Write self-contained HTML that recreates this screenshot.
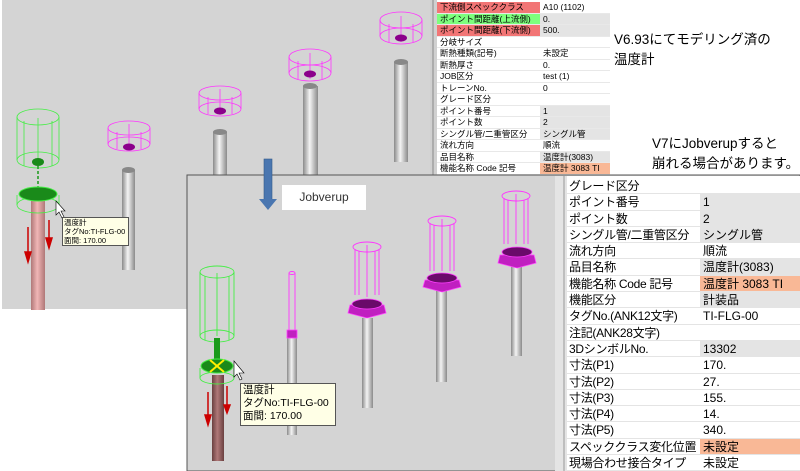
<!DOCTYPE html>
<html><head><meta charset="utf-8"><style>
body{margin:0;width:800px;height:471px;overflow:hidden;background:#fff;position:relative;font-family:"Liberation Sans","Noto Sans CJK JP",sans-serif}
.abs{position:absolute}
.t1{position:absolute;left:437px;top:2px;width:173px;font-size:8.5px}
.t1 .row{display:flex;height:11.5px;line-height:11px;border-bottom:0.5px solid #e8e8e8;box-sizing:border-box;white-space:nowrap;overflow:hidden}
.t1 .row div:first-child{width:103px;padding-left:3px;box-sizing:border-box;overflow:hidden}
.t1 .row div:last-child{flex:1;padding-left:3px;overflow:hidden}
.t2{position:absolute;left:567px;top:178px;width:233px;font-size:12px}
.t2 .row{display:flex;height:16.3px;line-height:16px;border-bottom:1px solid #e4e4e4;box-sizing:border-box;white-space:nowrap;overflow:hidden}
.t2 .row div:first-child{width:133px;padding-left:2px;box-sizing:border-box;overflow:hidden;letter-spacing:-0.3px}
.t2 .row div:last-child{flex:1;padding-left:3px;overflow:hidden}
.g{background:#e4e4e4}
.o{background:#f9b896}
.r{background:#f27575}
.gr{background:#7dff7d}
.tip{position:absolute;background:#ffffe6;border:1px solid #555;color:#000;white-space:nowrap;overflow:hidden}
</style></head><body>
<svg class="abs" style="left:0;top:0" width="800" height="471">
<defs>
<linearGradient id="pg" x1="0" x2="1"><stop offset="0" stop-color="#8a8a8a"/><stop offset=".45" stop-color="#f4f4f4"/><stop offset="1" stop-color="#8a8a8a"/></linearGradient>
<linearGradient id="pk" x1="0" x2="1"><stop offset="0" stop-color="#b07878"/><stop offset=".45" stop-color="#f0b6b6"/><stop offset="1" stop-color="#b07878"/></linearGradient>
<linearGradient id="pb" x1="0" x2="1"><stop offset="0" stop-color="#6a4040"/><stop offset=".45" stop-color="#b07878"/><stop offset="1" stop-color="#6a4040"/></linearGradient>
</defs>
<rect x="2" y="0" width="428" height="309" fill="#d4d4d4"/>
<rect x="31" y="190" width="14" height="120" fill="url(#pk)"/>
<rect x="122" y="170" width="13" height="100" fill="url(#pg)"/><ellipse cx="128.5" cy="170" rx="6.5" ry="3" fill="#888"/>
<rect x="213" y="132" width="14" height="50" fill="url(#pg)"/><ellipse cx="220" cy="132" rx="7" ry="3" fill="#888"/>
<rect x="303" y="86" width="15" height="90" fill="url(#pg)"/><ellipse cx="310" cy="86" rx="7" ry="3" fill="#888"/>
<rect x="394" y="62" width="14" height="100" fill="url(#pg)"/><ellipse cx="401" cy="62" rx="7" ry="3" fill="#888"/>
<g fill="none" stroke="#ff33ff" stroke-width="0.8">
<g transform="translate(129,128)"><ellipse cx="0" cy="0" rx="21" ry="7"/><ellipse cx="0" cy="16" rx="21" ry="7"/><line x1="-21" y1="0" x2="-21" y2="16"/><line x1="21" y1="0" x2="21" y2="16"/><line x1="-12" y1="4" x2="-12" y2="21"/><line x1="12" y1="4" x2="12" y2="21"/><line x1="0" y1="-4" x2="0" y2="22"/></g>
<g transform="translate(220,93)"><ellipse cx="0" cy="0" rx="21" ry="7"/><ellipse cx="0" cy="16" rx="21" ry="7"/><line x1="-21" y1="0" x2="-21" y2="16"/><line x1="21" y1="0" x2="21" y2="16"/><line x1="-12" y1="4" x2="-12" y2="21"/><line x1="12" y1="4" x2="12" y2="21"/><line x1="0" y1="-4" x2="0" y2="22"/></g>
<g transform="translate(310,57)"><ellipse cx="0" cy="0" rx="21" ry="8"/><ellipse cx="0" cy="16" rx="21" ry="8"/><line x1="-21" y1="0" x2="-21" y2="16"/><line x1="21" y1="0" x2="21" y2="16"/><line x1="-12" y1="4" x2="-12" y2="22"/><line x1="12" y1="4" x2="12" y2="22"/><line x1="0" y1="-4" x2="0" y2="22"/></g>
<g transform="translate(401,20)"><ellipse cx="0" cy="0" rx="21" ry="8"/><ellipse cx="0" cy="16" rx="21" ry="8"/><line x1="-21" y1="0" x2="-21" y2="16"/><line x1="21" y1="0" x2="21" y2="16"/><line x1="-12" y1="4" x2="-12" y2="22"/><line x1="12" y1="4" x2="12" y2="22"/><line x1="0" y1="-4" x2="0" y2="22"/></g>
</g>
<g fill="#8b008b"><ellipse cx="129" cy="147" rx="6" ry="3.5"/><ellipse cx="220" cy="111" rx="6" ry="3.5"/><ellipse cx="310" cy="74" rx="6" ry="3.5"/><ellipse cx="401" cy="38" rx="6" ry="3.5"/></g>
<g fill="none" stroke="#44ee44" stroke-width="0.8">
<ellipse cx="38" cy="117" rx="21" ry="8"/><ellipse cx="38" cy="160" rx="21" ry="8"/><line x1="17" y1="117" x2="17" y2="160"/><line x1="59" y1="117" x2="59" y2="160"/><line x1="24" y1="121" x2="24" y2="166"/><line x1="52" y1="121" x2="52" y2="166"/><line x1="38" y1="118" x2="38" y2="160"/>
<ellipse cx="38" cy="205" rx="21" ry="8"/><line x1="17" y1="195" x2="17" y2="205"/><line x1="59" y1="195" x2="59" y2="205"/>
</g>
<ellipse cx="38" cy="162" rx="6" ry="4" fill="#1a8a1a"/>
<line x1="38" y1="166" x2="38" y2="190" stroke="#1a9a1a" stroke-width="1.5" stroke-dasharray="3,2"/>
<ellipse cx="38" cy="194" rx="19" ry="7" fill="#1a8a1a" stroke="#44ee44"/>
<g stroke="#c00" stroke-width="1.5" fill="#c00"><line x1="28" y1="227" x2="28" y2="255"/><polygon points="25,252 31,252 28,262"/><line x1="49" y1="220" x2="49" y2="240"/><polygon points="46,238 52,238 49,248"/></g>
<!-- top table side strip -->
<rect x="430" y="0" width="7" height="176" fill="#d0d0d0"/>
<line x1="433" y1="0" x2="433" y2="176" stroke="#888"/>
</svg>
<div class="t1">
<div class="row"><div class="r">下流側スペッククラス</div><div>A10 (1102)</div></div>
<div class="row"><div class="gr">ポイント間距離(上流側)</div><div class="g">0.</div></div>
<div class="row"><div class="r">ポイント間距離(下流側)</div><div class="g">500.</div></div>
<div class="row"><div>分岐サイズ</div><div></div></div>
<div class="row"><div>断熱種類(記号)</div><div>未設定</div></div>
<div class="row"><div>断熱厚さ</div><div>0.</div></div>
<div class="row"><div>JOB区分</div><div>test (1)</div></div>
<div class="row"><div>トレーンNo.</div><div>0</div></div>
<div class="row"><div>グレード区分</div><div></div></div>
<div class="row"><div>ポイント番号</div><div class="g">1</div></div>
<div class="row"><div>ポイント数</div><div class="g">2</div></div>
<div class="row"><div>シングル管/二重管区分</div><div class="g">シングル管</div></div>
<div class="row"><div>流れ方向</div><div>順流</div></div>
<div class="row"><div>品目名称</div><div class="g">温度計(3083)</div></div>
<div class="row"><div>機能名称 Code 記号</div><div class="o">温度計 3083 TI</div></div>
</div>
<svg class="abs" style="left:0;top:0" width="800" height="471">
<defs>
<linearGradient id="pg2" x1="0" x2="1"><stop offset="0" stop-color="#8a8a8a"/><stop offset=".45" stop-color="#f4f4f4"/><stop offset="1" stop-color="#8a8a8a"/></linearGradient>
<linearGradient id="pb2" x1="0" x2="1"><stop offset="0" stop-color="#6a4040"/><stop offset=".45" stop-color="#b07878"/><stop offset="1" stop-color="#6a4040"/></linearGradient>
</defs>
<rect x="187" y="175" width="613" height="296" fill="#d4d4d4" stroke="#555" stroke-width="1"/>
<rect x="555" y="176" width="245" height="295" fill="#fff"/>
<rect x="555" y="176" width="12" height="295" fill="#e4e4e4"/>
<line x1="564" y1="176" x2="564" y2="471" stroke="#999"/>
<rect x="212" y="375" width="12" height="86" fill="url(#pb2)"/>
<rect x="287" y="337" width="10" height="98" fill="url(#pg2)"/>
<rect x="362" y="318" width="11" height="90" fill="url(#pg2)"/>
<rect x="436" y="290" width="11" height="92" fill="url(#pg2)"/>
<rect x="511" y="265" width="11" height="91" fill="url(#pg2)"/>
<g fill="none" stroke="#ff33ff" stroke-width="0.9">
<ellipse cx="292" cy="273" rx="3" ry="1.5"/><line x1="289" y1="273" x2="289" y2="330"/><line x1="295" y1="273" x2="295" y2="330"/>
<g transform="translate(367,247)"><ellipse cx="0" cy="0" rx="14" ry="5"/><line x1="-12" y1="2" x2="-12" y2="48"/><line x1="12" y1="2" x2="12" y2="48"/><line x1="-8" y1="4" x2="-8" y2="48"/><line x1="8" y1="4" x2="8" y2="48"/><line x1="0" y1="-2" x2="0" y2="50"/></g>
<g transform="translate(442,221)"><ellipse cx="0" cy="0" rx="14" ry="5"/><line x1="-12" y1="2" x2="-12" y2="50"/><line x1="12" y1="2" x2="12" y2="50"/><line x1="-8" y1="4" x2="-8" y2="50"/><line x1="8" y1="4" x2="8" y2="50"/><line x1="0" y1="-2" x2="0" y2="50"/></g>
<g transform="translate(516,196)"><ellipse cx="0" cy="0" rx="14" ry="5"/><line x1="-12" y1="2" x2="-12" y2="48"/><line x1="12" y1="2" x2="12" y2="48"/><line x1="-8" y1="4" x2="-8" y2="48"/><line x1="8" y1="4" x2="8" y2="48"/><line x1="0" y1="-2" x2="0" y2="48"/></g>
</g>
<g fill="#c020c0" stroke="#ff40ff" stroke-width="0.8">
<rect x="287" y="330" width="10" height="8"/>
<polygon points="350,305 384,305 386,313 367,318 348,313"/><ellipse cx="367" cy="304" rx="15" ry="5" fill="#6a0a6a"/>
<polygon points="425,280 459,280 461,287 442,292 423,287"/><ellipse cx="442" cy="278" rx="15" ry="5" fill="#6a0a6a"/>
<polygon points="500,255 534,255 536,263 517,268 498,263"/><ellipse cx="517" cy="252" rx="15" ry="5" fill="#6a0a6a"/>
</g>
<g fill="none" stroke="#44ee44" stroke-width="0.9">
<ellipse cx="217" cy="272" rx="17" ry="6"/><ellipse cx="217" cy="336" rx="17" ry="6"/><line x1="200" y1="272" x2="200" y2="336"/><line x1="234" y1="272" x2="234" y2="336"/><line x1="205" y1="276" x2="205" y2="340"/><line x1="229" y1="276" x2="229" y2="340"/><line x1="217" y1="273" x2="217" y2="336"/>
<ellipse cx="217" cy="378" rx="17" ry="6"/><line x1="200" y1="368" x2="200" y2="378"/><line x1="234" y1="368" x2="234" y2="378"/>
</g>
<rect x="214" y="338" width="6" height="22" fill="#1a9a1a"/>
<ellipse cx="217" cy="366" rx="16" ry="7" fill="#1a8a1a" stroke="#44ee44"/>
<g stroke="#ffee00" stroke-width="2"><line x1="210" y1="360" x2="224" y2="372"/><line x1="224" y1="360" x2="210" y2="372"/></g>
<g stroke="#c00" stroke-width="1.5" fill="#c00"><line x1="208" y1="392" x2="208" y2="418"/><polygon points="205,415 211,415 208,425"/><line x1="227" y1="386" x2="227" y2="408"/><polygon points="224,405 230,405 227,413"/></g>
<polygon points="56,201 56,215 59,212 62,218 64,217 61,211 65,211" fill="#fff" stroke="#000" stroke-width="0.6"/>
<polygon points="234,361 234,377 237,374 240,380 242,379 239,373 244,373" fill="#fff" stroke="#000" stroke-width="0.6"/>
<rect x="264" y="159" width="8" height="41" fill="#4a76b0" stroke="#345a8a" stroke-width="0.6"/>
<polygon points="259,199 277,199 268,210" fill="#4a76b0"/>
</svg>
<div class="abs" style="left:282px;top:185px;width:84px;height:25px;background:#fff;font-size:12px;line-height:25px;text-align:center;color:#333">Jobverup</div>
<div class="tip" style="left:62px;top:217px;width:64px;height:27px;font-size:7.5px;line-height:9px;padding-left:1px">温度計<br>タグNo:TI-FLG-00<br>面間: 170.00</div>
<div class="tip" style="left:240px;top:383px;width:92px;height:41px;font-size:10.5px;line-height:13px;padding-left:2px">温度計<br>タグNo:TI-FLG-00<br>面間: 170.00</div>
<div class="t2">
<div class="row"><div>グレード区分</div><div></div></div>
<div class="row"><div>ポイント番号</div><div class="g">1</div></div>
<div class="row"><div>ポイント数</div><div class="g">2</div></div>
<div class="row"><div>シングル管/二重管区分</div><div class="g">シングル管</div></div>
<div class="row"><div>流れ方向</div><div>順流</div></div>
<div class="row"><div>品目名称</div><div class="g">温度計(3083)</div></div>
<div class="row"><div>機能名称 Code 記号</div><div class="o">温度計 3083 TI</div></div>
<div class="row"><div>機能区分</div><div class="g">計装品</div></div>
<div class="row"><div>タグNo.(ANK12文字)</div><div>TI-FLG-00</div></div>
<div class="row"><div>注記(ANK28文字)</div><div></div></div>
<div class="row"><div>3DシンボルNo.</div><div class="g">13302</div></div>
<div class="row"><div>寸法(P1)</div><div>170.</div></div>
<div class="row"><div>寸法(P2)</div><div>27.</div></div>
<div class="row"><div>寸法(P3)</div><div>155.</div></div>
<div class="row"><div>寸法(P4)</div><div>14.</div></div>
<div class="row"><div>寸法(P5)</div><div>340.</div></div>
<div class="row"><div>スペッククラス変化位置</div><div class="o">未設定</div></div>
<div class="row"><div>現場合わせ接合タイプ</div><div>未設定</div></div>
</div>
<div class="abs" style="left:614px;top:30px;font-size:13.5px;line-height:20px;color:#000">V6.93にてモデリング済の<br>温度計</div>
<div class="abs" style="left:652px;top:134px;font-size:13.5px;line-height:20px;color:#000;white-space:nowrap">V7にJobverupすると<br>崩れる場合があります。</div>
</body></html>
